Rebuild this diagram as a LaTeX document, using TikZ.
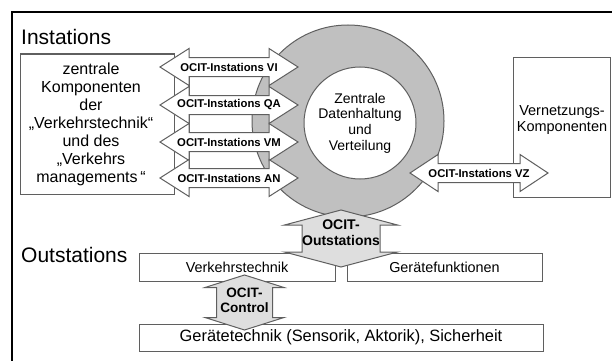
\documentclass[tikz,border=0pt]{standalone}
\usepackage{fontspec}
\setmainfont{Liberation Sans}
\definecolor{ringgray}{RGB}{192,192,192}
\definecolor{arrowgray}{RGB}{222,222,222}
\definecolor{linegray}{RGB}{95,95,95}
\tikzset{
	heading/.style={font=\fontsize{21}{24}\selectfont, inner sep=0pt},
	box/.style={draw=linegray, line width=1, fill=white, inner sep=0pt},
	harrow/.style={draw=linegray, line width=1, fill=white},
	varrow/.style={draw=linegray, line width=1, fill=arrowgray},
	albl/.style={font=\fontsize{11.3}{13}\selectfont\bfseries, inner sep=0pt},
}
\begin{document}
\begin{tikzpicture}[x=1pt,y=-1pt]
	\useasboundingbox (0,0) rectangle (612,361);
	% Frame
	\draw [black, line width=1.3] (612,12) -- (12,12) -- (12,361);
	\node [heading, anchor=base west] (instations) at (21,45) {Instations};
	\node [heading, anchor=base west] (outstations) at (21,262) {Outstations};
	% Instations
	\node [box, minimum width=154, minimum height=140] (zentralbox) at (97,124) {};
	\node [align=center, inner sep=0pt, font=\fontsize{16}{18}\selectfont] (zentraltext) at (91,124) {zentrale\\Komponenten\\der\\„Verkehrstechnik“\\und des\\„Verkehrs\\managements\,“};
	\node [box, minimum width=97, minimum height=140] (vernetzbox) at (561.5,127) {};
	\node [align=center, inner sep=0pt, font=\fontsize{14.5}{16}\selectfont] (vernetztext) at (562,120) {Vernetzungs-\\Komponenten};
	% Ring
	\draw [draw=linegray, line width=1, fill=ringgray] (348,121) circle [radius=96pt];
	\node [circle, draw=linegray, line width=1, fill=white, minimum size=112pt, inner sep=0pt, align=center, font=\fontsize{14}{15.7}\selectfont] (daten) at (360,123) {Zentrale\\Datenhaltung\\und\\Verteilung};
	\draw [linegray, line width=1] (189,67) rectangle (269,178);
	% Instations arrows
	\draw [harrow] (160,67) -- ++(29,-18.5) -- ++(0,9) -- ++(80,0) -- ++(0,-9) -- ++(29,18.5) -- ++(-29,18.5) -- ++(0,-9) -- ++(-80,0) -- ++(0,9) -- cycle;
	\node [albl] (vi) at (229,67) {OCIT-Instations VI};
	\draw [harrow] (160,105) -- ++(29,-18.5) -- ++(0,9) -- ++(80,0) -- ++(0,-9) -- ++(29,18.5) -- ++(-29,18.5) -- ++(0,-9) -- ++(-80,0) -- ++(0,9) -- cycle;
	\node [albl] (qa) at (229,105) {OCIT-Instations QA};
	\draw [harrow] (160,142) -- ++(29,-18.5) -- ++(0,9) -- ++(80,0) -- ++(0,-9) -- ++(29,18.5) -- ++(-29,18.5) -- ++(0,-9) -- ++(-80,0) -- ++(0,9) -- cycle;
	\node [albl] (vm) at (229,142) {OCIT-Instations VM};
	\draw [harrow] (160,178) -- ++(29,-18.5) -- ++(0,9) -- ++(80,0) -- ++(0,-9) -- ++(29,18.5) -- ++(-29,18.5) -- ++(0,-9) -- ++(-80,0) -- ++(0,9) -- cycle;
	\node [albl] (an) at (229,178) {OCIT-Instations AN};
	\draw [harrow] (410,173) -- ++(28,-18.5) -- ++(0,9) -- ++(82,0) -- ++(0,-9) -- ++(28,18.5) -- ++(-28,18.5) -- ++(0,-9) -- ++(-82,0) -- ++(0,9) -- cycle;
	\node [albl] (vz) at (479,173) {OCIT-Instations VZ};
	% Outstations
	\node [box, minimum width=196, minimum height=28, font=\fontsize{14.4}{16}\selectfont] (verkehr) at (237,267) {Verkehrstechnik};
	\node [box, minimum width=195, minimum height=28, font=\fontsize{14.4}{16}\selectfont] (funktion) at (444.5,267) {Gerätefunktionen};
	\node [box, minimum width=404, minimum height=27, font=\fontsize{16.4}{18}\selectfont] (geraet) at (341,337.5) {Gerätetechnik (Sensorik, Aktorik), Sicherheit};
	\draw [varrow] (341,210) -- ++(56.5,15) -- ++(-17.5,0) -- ++(0,27) -- ++(17.5,0) -- ++(-56.5,15) -- ++(-56.5,-15) -- ++(17.5,0) -- ++(0,-27) -- ++(-17.5,0) -- cycle;
	\node [albl, align=center, font=\fontsize{14}{16}\selectfont\bfseries] (outlbl) at (341,233) {OCIT-\\Outstations};
	\draw [varrow] (244.5,275) -- ++(39.5,12.5) -- ++(-11.5,0) -- ++(0,30) -- ++(11.5,0) -- ++(-39.5,12.5) -- ++(-39.5,-12.5) -- ++(11.5,0) -- ++(0,-30) -- ++(-11.5,0) -- cycle;
	\node [albl, align=center, font=\fontsize{13.6}{15}\selectfont\bfseries] (ctrllbl) at (244.5,300.5) {OCIT-\\Control};
\end{tikzpicture}
\end{document}
